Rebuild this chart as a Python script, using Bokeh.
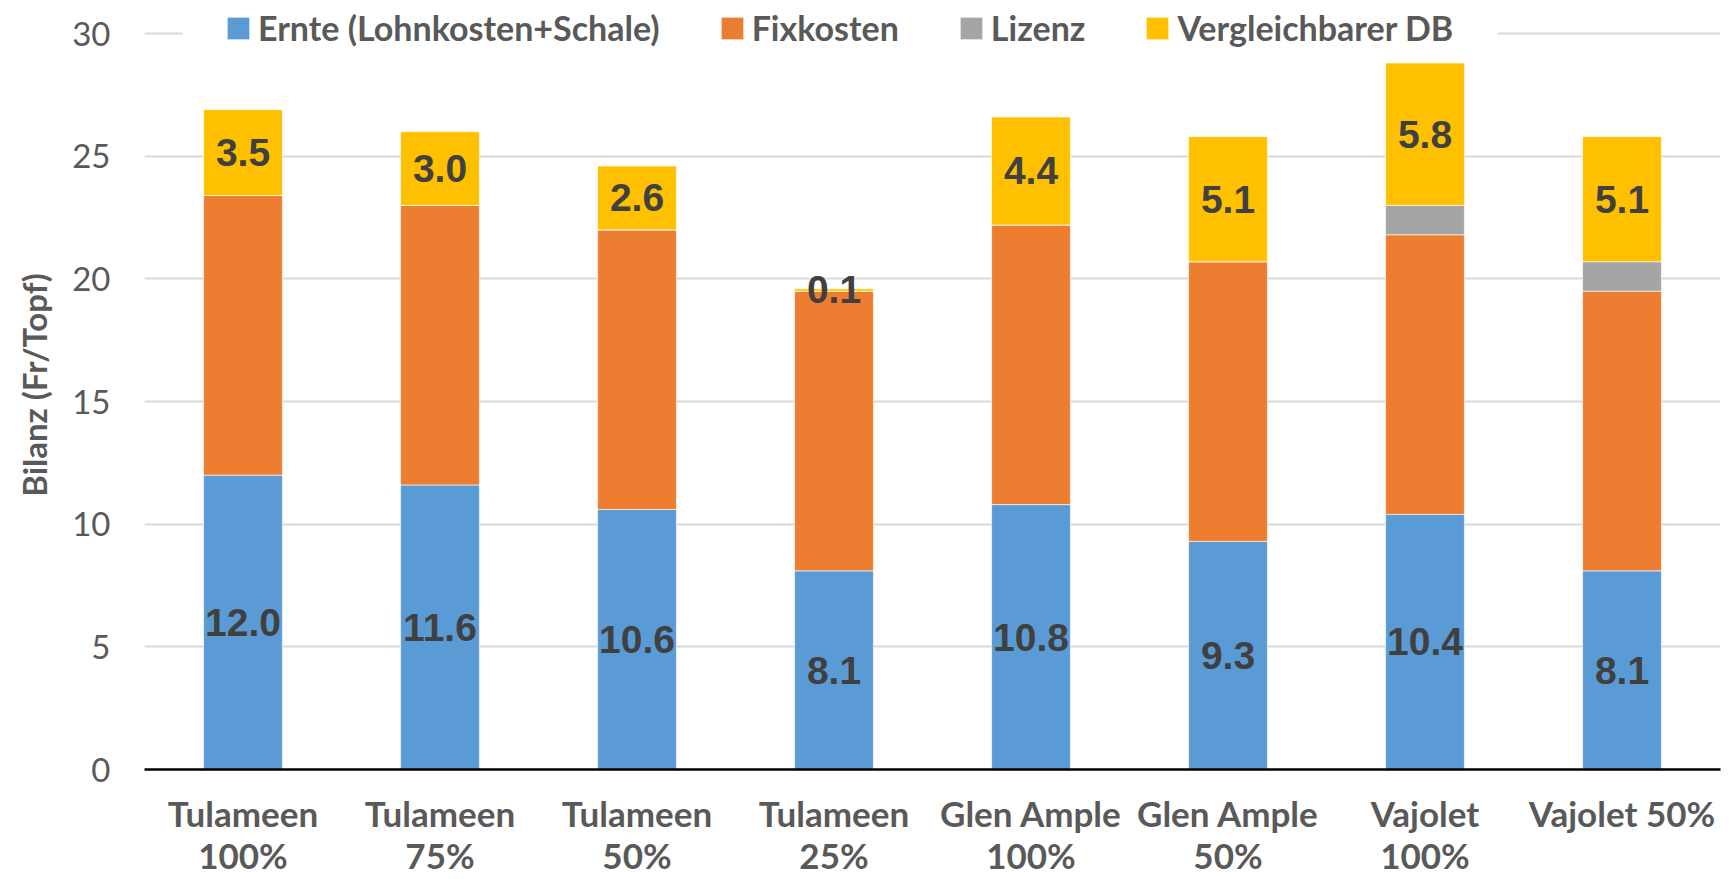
from bokeh.plotting import figure
from bokeh.models import ColumnDataSource, FixedTicker, BoxAnnotation, Legend
from bokeh.core.properties import value
from bokeh.embed import file_html
from bokeh.resources import INLINE

categories = ["Tulameen\n100%", "Tulameen\n75%", "Tulameen\n50%", "Tulameen\n25%",
              "Glen Ample\n100%", "Glen Ample\n50%", "Vajolet\n100%", "Vajolet 50%"]
ernte = [12.0, 11.6, 10.6, 8.1, 10.8, 9.3, 10.4, 8.1]
fixkosten = [11.4, 11.4, 11.4, 11.4, 11.4, 11.4, 11.4, 11.4]
lizenz = [0.0, 0.0, 0.0, 0.0, 0.0, 0.0, 1.2, 1.2]
db = [3.5, 3.0, 2.6, 0.1, 4.4, 5.1, 5.8, 5.1]

series = ["Ernte (Lohnkosten+Schale)", "Fixkosten", "Lizenz", "Vergleichbarer DB"]
colors = ["#5B9BD5", "#ED7D31", "#A5A5A5", "#FFC000"]
y_ticks = [0, 5, 10, 15, 20, 25, 30]

Y_END = 31.35

src = ColumnDataSource(dict(cat=categories, e=ernte, f=fixkosten, l=lizenz, d=db))

p = figure(x_range=categories, y_range=(0, Y_END), width=1733, height=879,
           output_backend="svg", toolbar_location=None,
           min_border_left=144, min_border_right=13, min_border_top=0, min_border_bottom=110)
p.outline_line_color = None
p.background_fill_color = "white"

rs = p.vbar_stack(["e", "f", "l", "d"], x="cat", width=0.4, source=src,
                  color=colors, line_color="white", line_width=1, line_alpha=0.6)

# labels
lab_e_y = [v / 2 for v in ernte]
lab_d_y = [e + f + l + d / 2 for e, f, l, d in zip(ernte, fixkosten, lizenz, db)]
lab_src = ColumnDataSource(dict(
    x=categories + categories,
    y=lab_e_y + lab_d_y,
    t=["%.1f" % v for v in ernte] + ["%.1f" % v for v in db]))
p.text(x="x", y="y", text="t", source=lab_src, text_align="center", text_baseline="middle",
       text_font=value("Liberation Sans"), text_font_style="bold", text_font_size="39px",
       text_color="#404040")

# axes
p.yaxis.ticker = FixedTicker(ticks=y_ticks)
p.yaxis.axis_line_color = None
p.yaxis.major_tick_line_color = None
p.yaxis.minor_tick_line_color = None
p.yaxis.major_label_text_font = "Lato"
p.yaxis.major_label_text_font_size = "33px"
p.yaxis.major_label_text_color = "#595959"
p.yaxis.major_label_standoff = 28
p.yaxis.axis_label = "Bilanz (Fr/Topf)"
p.yaxis.axis_label_text_font = "Lato"
p.yaxis.axis_label_text_font_style = "bold"
p.yaxis.axis_label_text_font_size = "33px"
p.yaxis.axis_label_text_color = "#595959"
p.yaxis.axis_label_standoff = 15

p.xaxis.axis_line_color = "black"
p.xaxis.axis_line_width = 2.5
p.xaxis.major_tick_line_color = None
p.xaxis.minor_tick_line_color = None
p.xaxis.major_label_text_font = "Lato"
p.xaxis.major_label_text_font_style = "bold"
p.xaxis.major_label_text_font_size = "35px"
p.xaxis.major_label_text_color = "#595959"
p.xaxis.major_label_text_line_height = 1.0
p.xaxis.major_label_standoff = 16

p.xgrid.grid_line_color = None
p.ygrid.grid_line_color = "#D9D9D9"
p.ygrid.grid_line_width = 2

# white band behind legend, hiding the top grid line there
p.add_layout(BoxAnnotation(left=0.193, right=6.87, bottom=29.6, top=Y_END,
                           fill_color="white", fill_alpha=1.0, line_color=None, level="underlay"))

legend = Legend(items=[(s, [r]) for s, r in zip(series, rs)], orientation="horizontal",
                location=(80, 721), padding=0, margin=0, spacing=58,
                glyph_width=28, glyph_height=28, label_standoff=6,
                label_text_font="Lato", label_text_font_style="bold",
                label_text_font_size="34px", label_text_color="#595959",
                border_line_color=None, background_fill_alpha=0)
p.add_layout(legend)

open("out.html", "w").write(file_html(p, INLINE))
